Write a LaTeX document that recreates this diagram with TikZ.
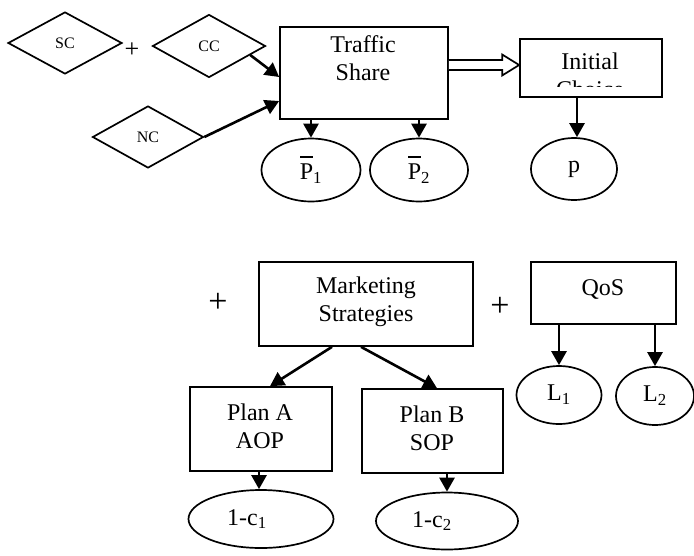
\documentclass[tikz,border=0pt]{standalone}
\usepackage{fontspec}
\setmainfont{Liberation Serif}
\usetikzlibrary{shapes.geometric,arrows.meta,calc}

\newcommand{\bigtext}{\fontsize{24}{28}\selectfont}
\newcommand{\smalltext}{\fontsize{16}{19}\selectfont}
% P with a bar set well above it
\newcommand{\barP}{\makebox[0pt][l]{\hspace*{0.5pt}\rule[22pt]{13pt}{1.6pt}}P}

\tikzset{
  box/.style={draw, line width=1.7pt, inner sep=0pt, rectangle},
  lbl/.style={inner sep=0pt, align=center, font=\bigtext},
  dia/.style={draw, diamond, line width=1.7pt, inner sep=0pt, font=\smalltext},
  oval/.style={draw, ellipse, line width=1.7pt, inner sep=0pt, font=\bigtext},
  arr/.style={line width=2.6pt, -{Triangle[length=14pt,width=15pt]}},
  plus/.style={inner sep=0pt, font=\fontsize{26}{30}\selectfont},
  bigplus/.style={inner sep=0pt, font=\fontsize{34}{40}\selectfont},
}

\begin{document}
\begin{tikzpicture}[x=1pt,y=-1pt]
\useasboundingbox (0,0) rectangle (694,555);

% --- upper part: traffic share ---
\node[dia, minimum width=114pt, minimum height=62pt] (sc) at (65,43) {SC};
\node[plus] (p1) at (132,50) {+};
\node[dia, minimum width=113pt, minimum height=63pt] (cc) at (209,46) {CC};
\node[dia, minimum width=111pt, minimum height=62pt] (nc) at (148,137) {NC};

\node[box, minimum width=168pt, minimum height=92pt] (ts) at (364,73) {};
\node[lbl] (tsl) at (363,58) {Traffic\\Share};

\node[box, minimum width=142pt, minimum height=58pt] (ic) at (591,68) {};
\begin{scope}
  \clip (521,40) rectangle (661,86);
  \node[lbl] (icl) at (590,75) {Initial\\Choice};
\end{scope}

\draw[arr] ($(cc.east)!0.28!(cc.south)$) -- (ts.west |- 0,77);
\draw[arr] (nc.east) -- (ts.west |- 0,101);

% hollow arrow from traffic share to initial choice
\coordinate (hs) at (ts.east |- 0,65);
\coordinate (he) at (ic.west |- 0,65);
\draw[line width=1.7pt, fill=white, line join=miter]
  ($(hs)+(0,-5)$) -- ($(he)+(-17,-5)$) -- ($(he)+(-17,-10.5)$) -- (he)
  -- ($(he)+(-17,10.5)$) -- ($(he)+(-17,5)$) -- ($(hs)+(0,5)$);

\node[oval, minimum width=99pt, minimum height=63pt] (pb1) at (311,170)
  {\barP\textsubscript{1}};
\node[oval, minimum width=98pt, minimum height=63pt] (pb2) at (419,170)
  {\barP\textsubscript{2}};
\node[oval, minimum width=86pt, minimum height=62pt] (pp) at (574,169) {p};

\draw[arr] (ts.south -| pb1) -- (pb1.north);
\draw[arr] (ts.south -| pb2) -- (pb2.north);
\draw[arr] (ic.south -| 577,0) -- (pp.north -| 577,0);

% --- lower part: marketing strategies and QoS ---
\node[bigplus] (p2) at (218,303) {+};
\node[box, minimum width=214pt, minimum height=84pt] (ms) at (366,304) {};
\node[lbl] (msl) at (366,302) {Marketing\\Strategies};

\node[bigplus] (p3) at (500,307) {+};
\node[box, minimum width=145pt, minimum height=62pt] (qos) at (603.5,293) {};
\node[lbl, anchor=base] (qosl) at (603,295) {QoS};

\node[box, minimum width=142pt, minimum height=84pt] (pa) at (261,429) {};
\node[lbl] (pal) at (260,426.5) {Plan A\\AOP};
\node[box, minimum width=141pt, minimum height=84pt] (pbx) at (432.5,431) {};
\node[lbl] (pbl) at (432,428.5) {Plan B\\SOP};

\draw[arr] (ms.south -| 332,0) -- (pa.north -| 270,0);
\draw[arr] (ms.south -| 361,0) -- (pbx.north -| 437,0);

\node[oval, minimum width=85pt, minimum height=58pt] (l1) at (559,395) {L\textsubscript{1}};
\node[oval, minimum width=78pt, minimum height=58pt] (l2) at (655,396) {L\textsubscript{2}};
\draw[arr] (qos.south -| l1) -- (l1.north);
\draw[arr] (qos.south -| l2) -- (l2.north);

\node[oval, minimum width=145pt, minimum height=58pt] (c1) at (261,519)
  {1-c\textsubscript{1}\hspace*{28pt}};
\node[oval, minimum width=142pt, minimum height=57pt] (c2) at (447,521)
  {1-c\textsubscript{2}\hspace*{30pt}};
\draw[arr] (pa.south -| 259,0) -- (c1.north -| 259,0);
\draw[arr] (pbx.south -| 447,0) -- (c2.north);
\end{tikzpicture}
\end{document}
